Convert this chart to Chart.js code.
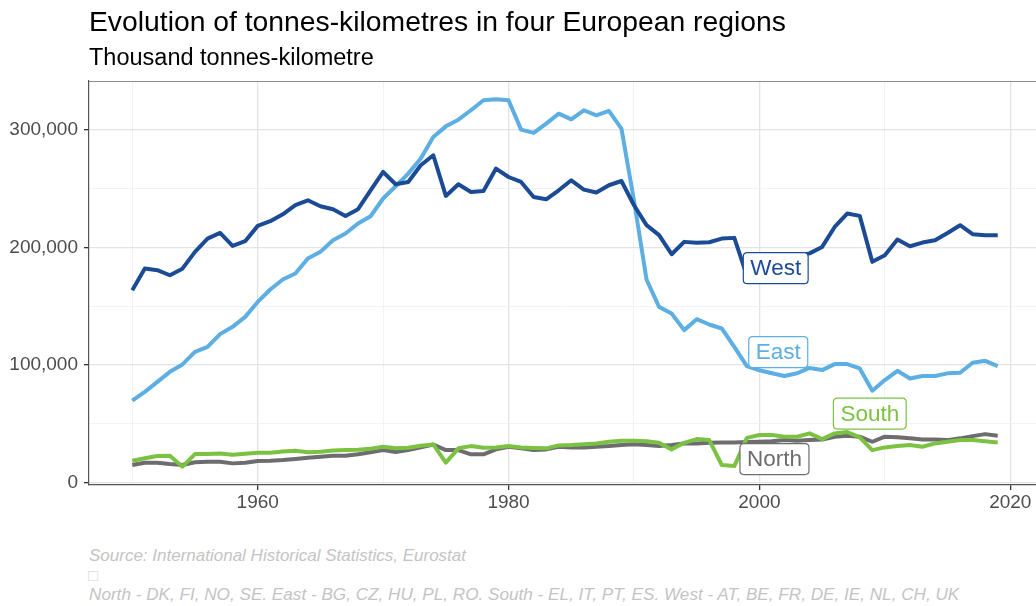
<!DOCTYPE html>
<html><head><meta charset="utf-8">
<script src="https://cdn.jsdelivr.net/npm/chart.js@4.4.1/dist/chart.umd.min.js"></script>
<style>
html,body{margin:0;padding:0;background:#fff;width:1036px;height:606px;overflow:hidden;font-family:"Liberation Sans",Arial,sans-serif;}
#wrap{position:relative;width:1036px;height:606px;overflow:hidden;}
canvas{position:absolute;left:0;top:0;}
.t{position:absolute;white-space:nowrap;line-height:1;}
</style></head><body>
<div id="wrap">
<canvas id="c" width="1050" height="520" style="width:1050px;height:520px"></canvas>
<div class="t" style="left:89px;top:7px;font-size:28.3px;color:#000">Evolution of tonnes-kilometres in four European regions</div>
<div class="t" style="left:89px;top:46px;font-size:23.5px;color:#000">Thousand tonnes-kilometre</div>
<div class="t" style="left:89px;top:547px;font-size:17px;color:#c4c4c4;font-style:italic">Source: International Historical Statistics, Eurostat</div>
<div class="t" style="left:88px;top:567px;font-size:17px;color:#d8d8d8">□</div>
<div class="t" style="left:89px;top:586px;font-size:17.15px;color:#c4c4c4;font-style:italic">North - DK, FI, NO, SE. East - BG, CZ, HU, PL, RO. South - EL, IT, PT, ES. West - AT, BE, FR, DE, IE, NL, CH, UK</div>
</div>
<script>
const years = [1950,1951,1952,1953,1954,1955,1956,1957,1958,1959,1960,1961,1962,1963,1964,1965,1966,1967,1968,1969,1970,1971,1972,1973,1974,1975,1976,1977,1978,1979,1980,1981,1982,1983,1984,1985,1986,1987,1988,1989,1990,1991,1992,1993,1994,1995,1996,1997,1998,1999,2000,2001,2002,2003,2004,2005,2006,2007,2008,2009,2010,2011,2012,2013,2014,2015,2016,2017,2018,2019];

const west = [163700,182100,180700,176400,182000,196300,207600,212400,201400,205400,218400,222400,228300,236000,240200,235100,232600,226900,232600,248700,264300,253800,255800,270000,278500,243900,253800,247300,248100,267200,260000,255800,243000,241000,248700,257200,249300,246800,253000,256600,236000,219000,210500,194300,204800,204000,204500,207600,208200,176000,185000,190000,192000,193000,195000,200500,217500,228900,226900,187800,193500,206800,201100,204200,206200,212400,219000,211300,210500,210500];

const east = [69600,77200,85700,94200,100500,111200,115500,126300,132500,141000,153700,164300,172800,177900,190600,196300,206200,211900,220400,226600,241700,252100,262900,275700,294000,303100,308800,316800,325300,326100,325300,300300,297500,305400,313900,309100,316800,312500,316200,301200,240000,172800,149500,143900,129700,139000,134500,131100,115500,99000,95500,93000,90600,93000,97500,95700,100800,100800,97100,78100,87200,95100,88600,90600,90600,92900,93400,101900,103600,99100];

const south = [18500,20600,22500,22800,13500,24200,24200,24800,23700,24500,25400,25400,26500,27000,25700,26200,27300,27600,27900,28800,30500,29100,29600,31300,32400,16900,29100,31000,29600,29900,31000,29900,29400,29100,31600,31900,32500,33300,34700,35500,35500,35200,33800,28200,33800,37000,36100,14900,14000,38000,40400,40400,39000,39000,41800,37000,41800,43000,38500,27600,29900,31000,31900,30500,33300,34700,36100,36100,35200,34100];

const north = [14900,16900,16900,15700,14900,17200,17700,17700,16300,16900,18300,18500,19100,20000,21100,21900,22800,22800,24000,25700,27600,25900,27600,29900,32400,27600,27600,24000,24000,28200,30500,29100,27600,28200,30500,29900,29900,30500,31000,31900,32500,31900,31000,31900,33300,33300,33800,34100,34100,34400,34700,35200,36100,35500,36100,36600,39000,39800,39000,34700,39000,38500,37600,36600,36600,36100,37600,39500,41200,39800];

const xTicks = [1950,1960,1970,1980,1990,2000,2010,2020];
const xTickLabels = ['','1960','','1980','','2000','','2020'];
const yTicks = [0,50000,100000,150000,200000,250000,300000];
const yTickLabels = ['0','','100,000','','200,000','','300,000'];

const seriesNames = ['West','South','North','East'];
const seriesColors = {West:'#1c4b95', East:'#5daee3', South:'#7cc242', North:'#6d6d70'};
const seriesData = {West:west, East:east, South:south, North:north};

// label anchor positions (in data units) for the direct labels
const labelAnchors = {
  West:{x:2001.3, y:182400},
  East:{x:2001.5, y:111000},
  South:{x:2008.8, y:58700},
  North:{x:2001.2, y:20000}
};

const datasets = seriesNames.map((n,i)=>({
  label:n,
  data: years.map((yr,j)=>({x:yr, y:seriesData[n][j]})),
  borderColor: seriesColors[n],
  backgroundColor: seriesColors[n],
  borderWidth: 4,
  pointRadius: 0,
  tension: 0,
  borderJoinStyle:'round',
  order: i+1
}));

const extras = {
  id:'extras',
  beforeDatasetsDraw(chart){
    const {ctx, chartArea:a} = chart;
    ctx.save();
    ctx.strokeStyle = '#8c8c8c';
    ctx.lineWidth = 1.2;
    ctx.beginPath();
    ctx.moveTo(a.left, a.top+0.5);
    ctx.lineTo(a.right, a.top+0.5);
    ctx.stroke();
    ctx.restore();
  },
  afterDatasetsDraw(chart){
    const {ctx} = chart;
    const xs = chart.scales.x, ys = chart.scales.y;
    ctx.save();
    ctx.font = '22.5px "Liberation Sans", Arial, sans-serif';
    ctx.textAlign = 'center';
    ctx.textBaseline = 'middle';
    for (const n of Object.keys(labelAnchors)) {
      const px = xs.getPixelForValue(labelAnchors[n].x);
      const py = ys.getPixelForValue(labelAnchors[n].y);
      const w = ctx.measureText(n).width + 14;
      const h = 31;
      const x0 = px - w/2, y0 = py - h/2, r = 4;
      ctx.beginPath();
      ctx.moveTo(x0+r,y0);
      ctx.lineTo(x0+w-r,y0); ctx.quadraticCurveTo(x0+w,y0,x0+w,y0+r);
      ctx.lineTo(x0+w,y0+h-r); ctx.quadraticCurveTo(x0+w,y0+h,x0+w-r,y0+h);
      ctx.lineTo(x0+r,y0+h); ctx.quadraticCurveTo(x0,y0+h,x0,y0+h-r);
      ctx.lineTo(x0,y0+r); ctx.quadraticCurveTo(x0,y0,x0+r,y0);
      ctx.closePath();
      ctx.fillStyle = '#ffffff';
      ctx.fill();
      ctx.strokeStyle = seriesColors[n];
      ctx.lineWidth = 1.2;
      ctx.stroke();
      ctx.fillStyle = seriesColors[n];
      ctx.fillText(n, px, py+1);
    }
    ctx.restore();
  }
};

new Chart(document.getElementById('c'), {
  type:'line',
  data:{datasets},
  plugins:[extras],
  options:{
    responsive:false,
    animation:false,
    devicePixelRatio:1,
    layout:{padding:{left:0,right:9,top:81,bottom:0}},
    plugins:{legend:{display:false}, tooltip:{enabled:false}, title:{display:false}},
    scales:{
      x:{
        type:'linear', min:1946.55, max:2022.45,
        afterBuildTicks(s){ s.ticks = xTicks.map(v=>({value:v})); },
        afterFit(s){ s.height = 35; },
        ticks:{
          autoSkip:false, maxRotation:0, padding:1,
          color:'#4d4d4d',
          font:{family:'"Liberation Sans", Arial, sans-serif', size:19},
          callback(v){ const i = xTicks.indexOf(v); return i>=0 ? xTickLabels[i] : ''; }
        },
        grid:{
          color(c){ return (c.tick && c.tick.value % 20 === 0) ? '#e4e4e4' : '#f0f0f0'; },
          lineWidth(c){ return (c.tick && c.tick.value % 20 === 0) ? 1.3 : 0.8; },
          tickColor(c){ return (c.tick && c.tick.value % 20 === 0) ? '#333333' : 'rgba(0,0,0,0)'; },
          tickLength:5, drawTicks:true
        },
        border:{display:true, color:'#555555', width:1.2}
      },
      y:{
        type:'linear', min:-2100, max:341700,
        afterBuildTicks(s){ s.ticks = yTicks.map(v=>({value:v})); },
        afterFit(s){ s.width = 89; },
        ticks:{
          padding:6, color:'#4d4d4d',
          font:{family:'"Liberation Sans", Arial, sans-serif', size:19},
          callback(v){ const i = yTicks.indexOf(v); return i>=0 ? yTickLabels[i] : ''; }
        },
        grid:{
          color(c){ return (c.tick && c.tick.value % 100000 === 0) ? '#e4e4e4' : '#f0f0f0'; },
          lineWidth(c){ return (c.tick && c.tick.value % 100000 === 0) ? 1.3 : 0.8; },
          tickColor(c){ return (c.tick && c.tick.value % 100000 === 0) ? '#333333' : 'rgba(0,0,0,0)'; },
          tickLength:5, drawTicks:true
        },
        border:{display:true, color:'#555555', width:1.2}
      }
    }
  }
});
</script>
</body></html>
